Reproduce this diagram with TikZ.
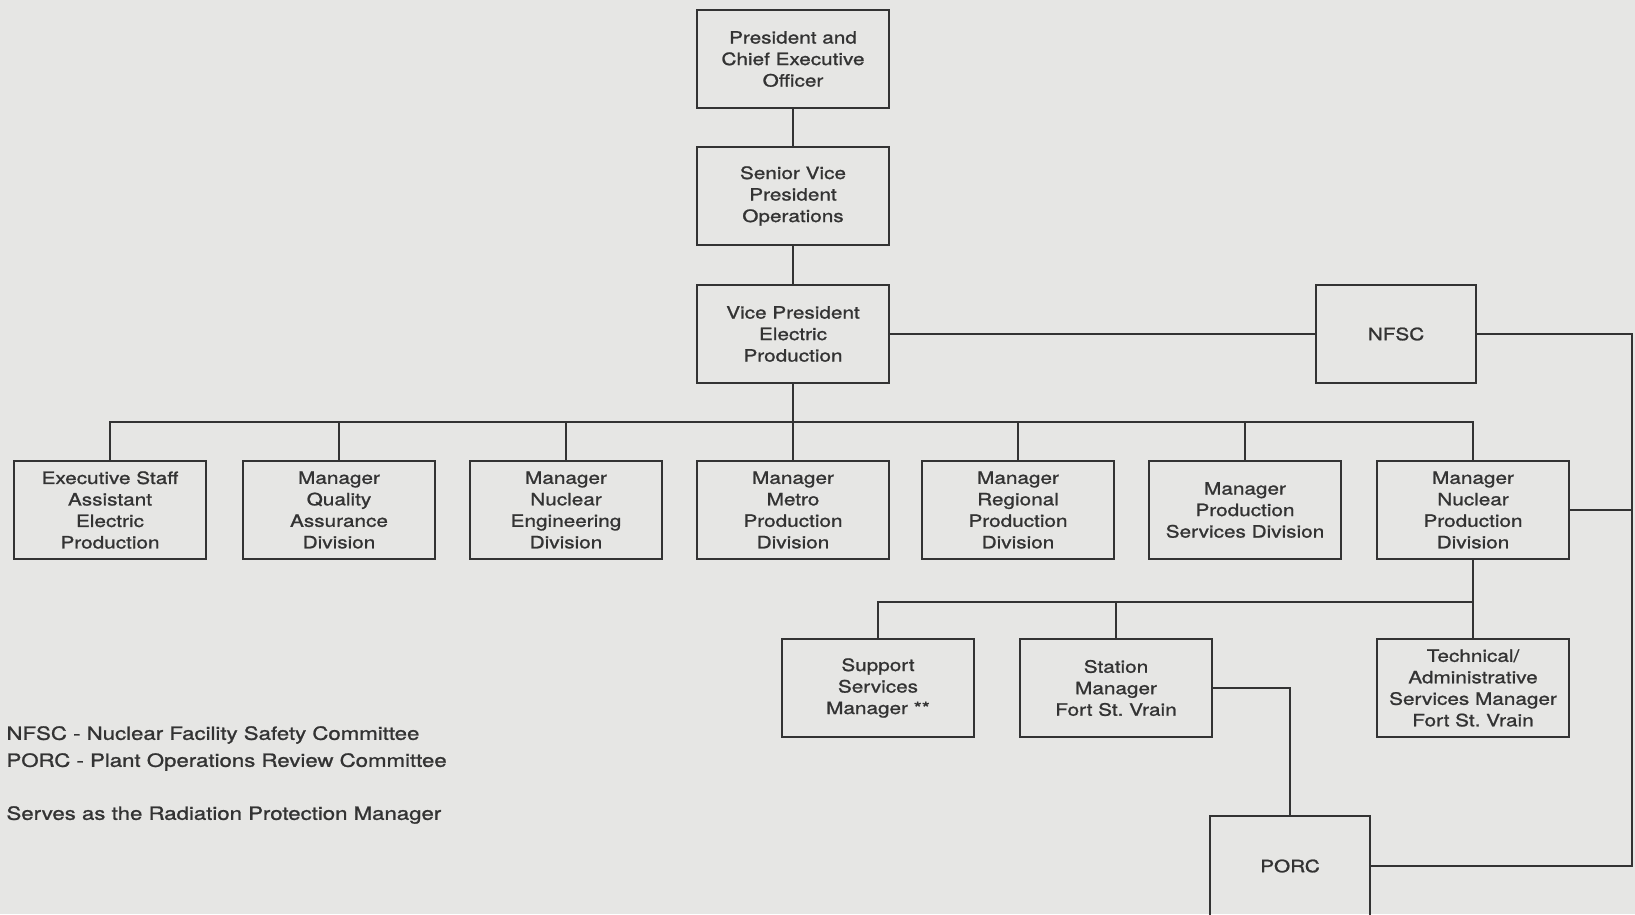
\documentclass[tikz,border=0pt]{standalone}
\usepackage{fontspec}
\setmainfont{TeX Gyre Heros}[FakeStretch=1.22,FakeBold=1.2]
\definecolor{paper}{HTML}{E6E6E4}
\definecolor{ink}{HTML}{333333}

\begin{document}
\begin{tikzpicture}[x=1pt,y=-1pt,
  box/.style={draw=ink,line width=1.3pt,minimum width=192pt,minimum height=98pt,
    align=center,text=ink,font=\fontsize{17}{21.5}\selectfont},
  link/.style={draw=ink,line width=2.5pt},
  legend/.style={anchor=west,text=ink,font=\fontsize{18.2}{22}\selectfont}]
  \fill[paper] (0,0) rectangle (1635,914);
  \useasboundingbox (0,0) rectangle (1635,914);

  \node[box] (pres) at (793,59){President and\\Chief Executive\\Officer};
  \node[box] (svp) at (793,196){Senior Vice\\President\\Operations};
  \node[box] (vpep) at (793,334){Vice President\\Electric\\Production};
  \node[box,minimum width=160pt] (nfsc) at (1396,334){NFSC};

  \node[box] (exec) at (110,510){Executive Staff\\Assistant\\Electric\\Production};
  \node[box] (qual) at (339,510){Manager\\Quality\\Assurance\\Division};
  \node[box] (engr) at (566,510){Manager\\Nuclear\\Engineering\\Division};
  \node[box] (metro) at (793,510){Manager\\Metro\\Production\\Division};
  \node[box] (regn) at (1018,510){Manager\\Regional\\Production\\Division};
  \node[box] (serv) at (1245,510){Manager\\Production\\Services Division};
  \node[box] (nucl) at (1473,510){Manager\\Nuclear\\Production\\Division};

  \node[box] (supp) at (878,688){Support\\Services\\Manager **};
  \node[box] (stat) at (1116,688){Station\\Manager\\Fort St.\ Vrain};
  \node[box] (tech) at (1473,688){Technical/\\Administrative\\Services Manager\\Fort St.\ Vrain};

  \node[box,minimum width=160pt,minimum height=100pt] (porc) at (1290,866){PORC};

  \node[legend] (lnfsc) at (3,735){NFSC - Nuclear Facility Safety Committee};
  \node[legend] (lporc) at (3,762){PORC - Plant Operations Review Committee};
  \node[legend] (lrpm) at (3,815){Serves as the Radiation Protection Manager};

  \coordinate (bus) at (793,422);
  \coordinate (sbus) at (1473,602);
  \coordinate (rt) at (1632,334);

  \draw[link] (pres) -- (svp);
  \draw[link] (svp) -- (vpep);
  \draw[link] (vpep) -- (nfsc);
  \draw[link] (vpep) -- (bus);

  \draw[link] (bus) -| (exec);
  \draw[link] (bus) -| (qual);
  \draw[link] (bus) -| (engr);
  \draw[link] (bus) -- (metro);
  \draw[link] (bus) -| (regn);
  \draw[link] (bus) -| (serv);
  \draw[link] (bus) -| (nucl);

  \draw[link] (nucl) -- (tech);
  \draw[link] (sbus) -| (supp);
  \draw[link] (sbus) -| (stat);

  \draw[link] (stat) -| (porc);
  \draw[link] (nfsc) -- (rt) |- (porc);
  \draw[link] (nucl) -- (nucl -| rt);
\end{tikzpicture}
\end{document}
